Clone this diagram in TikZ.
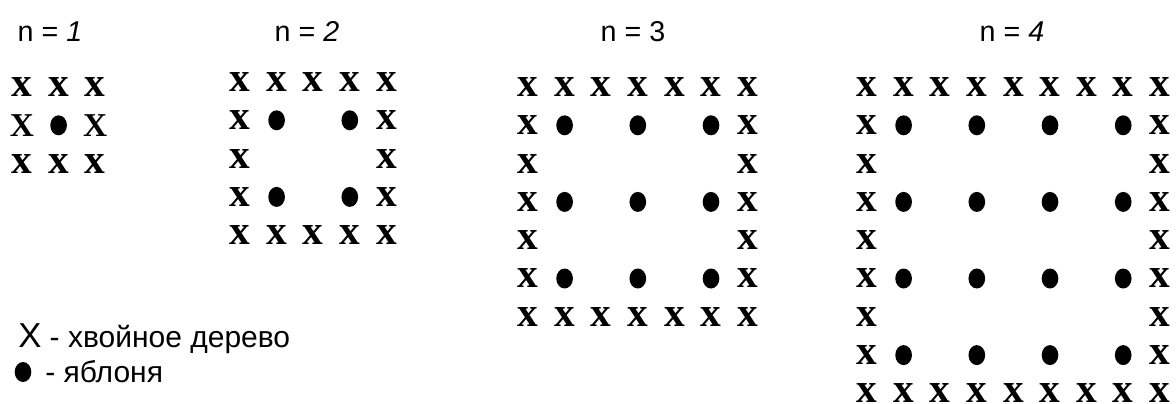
\documentclass[tikz,border=0pt]{standalone}
\usepackage{fontspec}
\setmainfont{Liberation Sans}
\newfontfamily\treefont{Liberation Serif}
\usetikzlibrary{shapes.geometric}

\begin{document}
\begin{tikzpicture}[x=0.75pt, y=-0.75pt,
  conifer/.style={font=\treefont\bfseries\fontsize{31}{32}\selectfont, inner sep=0pt},
  bigconifer/.style={font=\treefont\bfseries\fontsize{25}{26}\selectfont, inner sep=0pt},
  apple/.style={ellipse, fill=black, inner sep=0pt, minimum width=12.5pt, minimum height=15pt},
  heading/.style={font=\fontsize{21.5}{24}\selectfont, anchor=base, inner sep=0pt},
  legend/.style={font=\fontsize{22.5}{24}\selectfont, anchor=base west, inner sep=0pt}]
\useasboundingbox (0,0) rectangle (1176,403);
% заголовки
\node[heading] (h1) at (50,41)   {n = \textit{1}};
\node[heading] (h2) at (307,41)  {n = \textit{2}};
\node[heading] (h3) at (633,41)  {n = 3};
\node[heading] (h4) at (1012,41) {n = \textit{4}};
% участки: рамка из хвойных, внутри яблони
\foreach \n/\xo/\yo in {1/22/87, 2/240/82, 3/528/87, 4/867/87}{
  \pgfmathtruncatemacro\m{2*\n}
  \foreach \r in {0,...,\m}{
    \foreach \c in {0,...,\m}{
      \pgfmathtruncatemacro\edge{(\r==0)||(\r==\m)||(\c==0)||(\c==\m)}
      \pgfmathtruncatemacro\inner{isodd(\r)&&isodd(\c)}
      \pgfmathtruncatemacro\big{(\n==1)&&(\r==1)}
      \ifnum\edge=1
        \ifnum\big=1
          \node[bigconifer] (t\n-\r-\c) at (\xo+\c*36.6, \yo+\r*38.3) {X};
        \else
          \node[conifer] (t\n-\r-\c) at (\xo+\c*36.6, \yo+\r*38.3) {x};
        \fi
      \else\ifnum\inner=1
        \node[apple] (t\n-\r-\c) at (\xo+\c*36.6, \yo+\r*38.3) {};
      \fi\fi
    }
  }
}
% легенда
\node[legend] (keyx) at (18,347) {{\fontsize{26}{27}\selectfont X} - хвойное дерево};
\node[apple] (keydot) at (23,372) {};
\node[legend] (keyapple) at (45,382) {- яблоня};
\end{tikzpicture}
\end{document}
